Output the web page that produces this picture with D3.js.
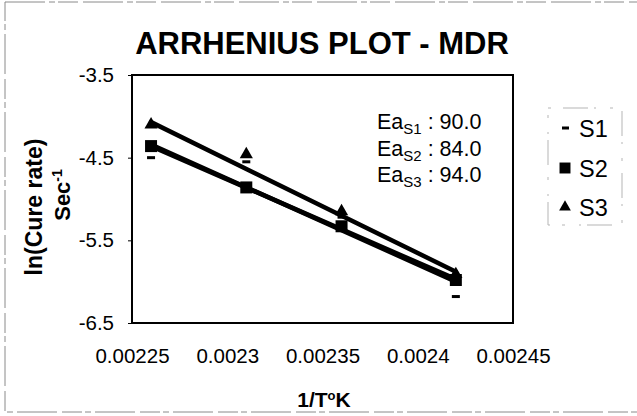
<!DOCTYPE html>
<html>
<head>
<meta charset="utf-8">
<script src="https://cdn.jsdelivr.net/npm/d3@7"></script>
<style>
  html, body { margin: 0; padding: 0; background: #fff; }
  svg { display: block; font-family: "Liberation Sans", Arial, sans-serif; }
</style>
</head>
<body>
<svg id="chart" width="637" height="416"></svg>
<script>
// ---- data ----
const xValues = [0.00226, 0.00231, 0.00236, 0.00242];     // 1/T (°K^-1)
const s1Values = [-4.50, -4.55, -5.22, -6.18];
const s2Values = [-4.36, -4.86, -5.33, -5.98];
const s3Values = [-4.10, -4.46, -5.15, -5.91];
// trendline values at first and last x
const s1Fit = [-4.34, -6.00];
const s2Fit = [-4.36, -5.97];
const s3Fit = [-4.07, -5.88];
const seriesNames = ["S1", "S2", "S3"];
const eaValues = ["90.0", "84.0", "94.0"];
const xTicks = [0.00225, 0.0023, 0.00235, 0.0024, 0.00245];
const xTickLabels = ["0.00225", "0.0023", "0.00235", "0.0024", "0.00245"];
const yTicks = [-3.5, -4.5, -5.5, -6.5];
const yTickLabels = ["-3.5", "-4.5", "-5.5", "-6.5"];

const svg = d3.select("#chart");
const plot = { left: 132, right: 513, top: 75, bottom: 323 };

const x = d3.scaleLinear().domain([0.00225, 0.00245]).range([plot.left, plot.right]);
const y = d3.scaleLinear().domain([-6.5, -3.5]).range([plot.bottom, plot.top]);

// outer (scanned) border
svg.append("rect")
  .attr("x", 5).attr("y", 2).attr("width", 640).attr("height", 410)
  .attr("fill", "none").attr("stroke", "#8a8a8a").attr("stroke-width", 1)
  .attr("stroke-dasharray", "40,4,6,3,20,5");

// title
svg.append("text")
  .attr("x", 322).attr("y", 54)
  .attr("text-anchor", "middle")
  .attr("font-size", 31).attr("font-weight", "bold")
  .text("ARRHENIUS PLOT - MDR");

// plot frame
svg.append("rect")
  .attr("x", plot.left).attr("y", plot.top)
  .attr("width", plot.right - plot.left).attr("height", plot.bottom - plot.top)
  .attr("fill", "none").attr("stroke", "#000").attr("stroke-width", 2);

// y axis
const yAxis = d3.axisLeft(y)
  .tickValues(yTicks)
  .tickFormat((d, i) => yTickLabels[i])
  .tickSize(4).tickPadding(14);
const yg = svg.append("g").attr("transform", `translate(${plot.left},0)`).call(yAxis);
yg.select(".domain").remove();
yg.selectAll("text").attr("font-size", 20.5).attr("font-family", "Liberation Sans, Arial, sans-serif").attr("fill", "#000");
yg.selectAll("line").attr("stroke", "#000");

// x axis
const xAxis = d3.axisBottom(x)
  .tickValues(xTicks)
  .tickFormat((d, i) => xTickLabels[i])
  .tickSize(0).tickPadding(25);
const xg = svg.append("g").attr("transform", `translate(0,${plot.bottom})`).call(xAxis);
xg.select(".domain").remove();
xg.selectAll("text").attr("font-size", 20.5).attr("font-family", "Liberation Sans, Arial, sans-serif").attr("fill", "#000");

// axis titles
svg.append("text")
  .attr("x", 324).attr("y", 407)
  .attr("text-anchor", "middle")
  .attr("font-size", 21).attr("font-weight", "bold")
  .html("1/T<tspan font-size='13' dy='-7'>o</tspan><tspan dy='7'>K</tspan>");

svg.append("text")
  .attr("transform", "translate(42,207) rotate(-90)")
  .attr("text-anchor", "middle")
  .attr("font-size", 23).attr("font-weight", "bold")
  .text("ln(Cure rate)");
svg.append("text")
  .attr("transform", "translate(70,195) rotate(-90)")
  .attr("text-anchor", "middle")
  .attr("font-size", 22).attr("font-weight", "bold")
  .html("Sec<tspan font-size='14' dy='-8'>-1</tspan>");

// trendlines
const fits = [s1Fit, s2Fit, s3Fit];
const xEnds = [xValues[0], xValues[xValues.length - 1]];
svg.append("g").selectAll("line").data(fits).join("line")
  .attr("x1", x(xEnds[0])).attr("x2", x(xEnds[1]))
  .attr("y1", d => y(d[0])).attr("y2", d => y(d[1]))
  .attr("stroke", "#000").attr("stroke-width", 4.5).attr("stroke-linecap", "round");

// markers
// S1 dashes
svg.append("g").selectAll("rect").data(s1Values).join("rect")
  .attr("x", (d, i) => x(xValues[i]) - 4).attr("y", d => y(d) - 1.5)
  .attr("width", 8).attr("height", 3).attr("fill", "#000");
// S2 squares
svg.append("g").selectAll("path").data(s2Values).join("path")
  .attr("transform", (d, i) => `translate(${x(xValues[i])},${y(d)})`)
  .attr("d", d3.symbol().type(d3.symbolSquare).size(144)())
  .attr("fill", "#000");
// S3 triangles
svg.append("g").selectAll("path").data(s3Values).join("path")
  .attr("transform", (d, i) => `translate(${x(xValues[i])},${y(d)})`)
  .attr("d", d3.symbol().type(d3.symbolTriangle).size(75)())
  .attr("fill", "#000");

// Ea annotations
const ann = svg.append("g");
eaValues.forEach((v, i) => {
  const t = ann.append("text")
    .attr("x", 377).attr("y", 129 + i * 26.5)
    .attr("font-size", 21.5);
  t.append("tspan").text("Ea");
  t.append("tspan").attr("font-size", 15).attr("dy", 5).text(seriesNames[i]);
  t.append("tspan").attr("dy", -5).text(" : " + v);
});

// legend (faint scanned frame)
svg.append("rect")
  .attr("x", 548).attr("y", 108).attr("width", 74).attr("height", 117)
  .attr("fill", "none").attr("stroke", "#b5b5b5").attr("stroke-width", 1)
  .attr("stroke-dasharray", "3,12,25,6,2,14");
const legY = [128, 168, 207];
const leg = svg.append("g");
seriesNames.forEach((name, i) => {
  const cy = legY[i];
  if (i === 0) {
    leg.append("rect").attr("x", 562).attr("y", cy - 1.5).attr("width", 7).attr("height", 3).attr("fill", "#000");
  } else if (i === 1) {
    leg.append("path").attr("transform", `translate(565,${cy})`)
      .attr("d", d3.symbol().type(d3.symbolSquare).size(120)()).attr("fill", "#000");
  } else {
    leg.append("path").attr("transform", `translate(565,${cy})`)
      .attr("d", d3.symbol().type(d3.symbolTriangle).size(60)()).attr("fill", "#000");
  }
  leg.append("text").attr("x", 579).attr("y", cy + 8.5)
    .attr("font-size", 23.5).text(name);
});
</script>
</body>
</html>
